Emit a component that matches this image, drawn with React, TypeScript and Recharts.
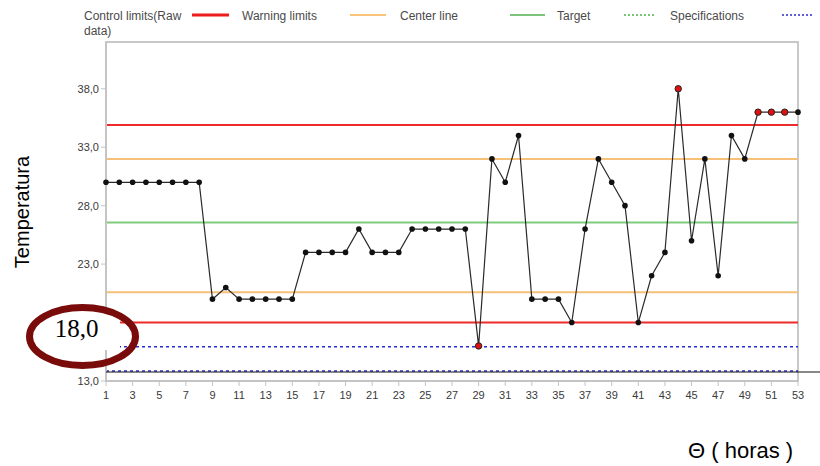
import React from 'react';
import { ComposedChart, Line, XAxis, YAxis, ReferenceLine, ReferenceArea } from 'recharts';

// temperature readings per hour
const temps = [
  30, 30, 30, 30, 30, 30, 30, 30, 20, 21,
  20, 20, 20, 20, 20, 24, 24, 24, 24, 26,
  24, 24, 24, 26, 26, 26, 26, 26, 16, 32,
  30, 34, 20, 20, 20, 18, 26, 32, 30, 28,
  18, 22, 24, 38, 25, 32, 22, 34, 32, 36,
  36, 36, 36,
];
// hours flagged out of control (red dots)
const flaggedHours = [29, 44, 50, 51, 52];

const controlLimits = [18.0, 34.9];
const warningLimits = [20.6, 32.0];
const centerLine = 26.55;
const specLimits = [13.86, 15.93];

const xTicks = [1, 3, 5, 7, 9, 11, 13, 15, 17, 19, 21, 23, 25, 27, 29, 31, 33, 35, 37, 39, 41, 43, 45, 47, 49, 51, 53];
const yTicks = [13, 18, 23, 28, 33, 38];
// tick whose label sits under the hand-drawn "18,0" note
const hiddenYTick = 18;

const legendItems = [
  { label: ['Control limits(Raw', 'data)'], color: '#ee1c1c', width: 3, dash: undefined },
  { label: ['Warning limits'], color: '#f5b04e', width: 1.5, dash: undefined },
  { label: ['Center line'], color: '#4fb24f', width: 1.5, dash: undefined },
  { label: ['Target'], color: '#4fb24f', width: 1.5, dash: '2 2' },
  { label: ['Specifications'], color: '#2b2bd0', width: 1.5, dash: '2 2' },
];

const data = temps.map((t, i) => ({ hour: i + 1, temp: t }));

const fmt = (v: number) => v.toFixed(1).replace('.', ',');

const FONT = '"Liberation Sans", Arial, sans-serif';

// legend layout: text x, swatch start/end
const legendLayout = [
  { tx: 84, s1: 192, s2: 229 },
  { tx: 242, s1: 350, s2: 386 },
  { tx: 400, s1: 510, s2: 545 },
  { tx: 557, s1: 624, s2: 655 },
  { tx: 670, s1: 782, s2: 814 },
];

const Dot = (props: any) => {
  const { cx, cy, payload, index } = props;
  const bad = flaggedHours.includes(payload.hour);
  return (
    <circle key={`dot-${index}`} cx={cx} cy={cy} r={bad ? 3.2 : 2.8}
      fill={bad ? '#e01010' : '#111'} stroke="#222" strokeWidth={bad ? 1 : 0} />
  );
};

const YTick = (props: any) => {
  const { x, y, payload } = props;
  if (payload.value === hiddenYTick) return <g />;
  return (
    <text x={x} y={y} dy="0.355em" textAnchor="end" fontSize={11} fontFamily={FONT} fill="#3a3a3a">
      {fmt(payload.value)}
    </text>
  );
};

export default function App() {
  const tickStyle = { fontSize: 11, fill: '#3a3a3a', fontFamily: FONT };
  return (
    <div style={{ position: 'absolute', left: 0, top: 0, width: 820, height: 466, background: '#fff' }}>
      <ComposedChart width={820} height={466} data={data} margin={{ top: 42, right: 22, bottom: 55, left: 66 }}>
        <XAxis dataKey="hour" type="number" domain={[1, 53]} ticks={xTicks} interval={0} height={30}
          tick={tickStyle} tickSize={5} tickMargin={5} stroke="#c4c4c4" axisLine={{ stroke: '#c4c4c4', strokeWidth: 2 }} />
        <YAxis type="number" domain={[13, 42]} ticks={yTicks} width={40}
          tick={<YTick />} tickSize={5} tickMargin={2} stroke="#c4c4c4" axisLine={{ stroke: '#c4c4c4', strokeWidth: 2 }} />
        <ReferenceArea x1={1} x2={53} y1={13} y2={42} fill="none" stroke="#c8c8c8" strokeWidth={2} />
        {specLimits.map((v) => (
          <ReferenceLine key={`s${v}`} y={v} stroke="#2b2bd0" strokeDasharray="3 3" strokeWidth={1.5} />
        ))}
        {warningLimits.map((v) => (
          <ReferenceLine key={`w${v}`} y={v} stroke="#f6c078" strokeWidth={2} />
        ))}
        <ReferenceLine y={centerLine} stroke="#7fcb7f" strokeWidth={2} />
        {controlLimits.map((v) => (
          <ReferenceLine key={`c${v}`} y={v} stroke="#ee2b2b" strokeWidth={2} />
        ))}
        <Line dataKey="temp" type="linear" stroke="#2a2a2a" strokeWidth={1.2} dot={Dot} activeDot={false} isAnimationActive={false} />
      </ComposedChart>

      <svg width={820} height={466} style={{ position: 'absolute', left: 0, top: 0, pointerEvents: 'none' }}>
        {legendItems.map((it, i) => {
          const l = legendLayout[i];
          return (
            <g key={i}>
              <text x={l.tx} y={19.5} fontSize={12} fontFamily={FONT} fill="#4a4a4a">
                {it.label.map((ln, j) => (
                  <tspan key={j} x={l.tx} dy={j === 0 ? 0 : 15.5}>{ln}</tspan>
                ))}
              </text>
              <line x1={l.s1} x2={l.s2} y1={15} y2={15} stroke={it.color} strokeWidth={it.width} strokeDasharray={it.dash} />
            </g>
          );
        })}
        <line x1={106} x2={820} y1={372} y2={372} stroke="#111" strokeWidth={1} />
        <rect x={30} y={310} width={90} height={40} fill="#fff" />
        <ellipse cx={82.5} cy={336.5} rx={53} ry={29} fill="none" stroke="#7a0b0b" strokeWidth={7} />
        <text x={76.5} y={337} textAnchor="middle" fontSize={25} fontFamily='"Liberation Serif", "Times New Roman", serif' fill="#000">18,0</text>
        <text x={0} y={0} transform="translate(29 212) rotate(-90)" textAnchor="middle" fontSize={20} fontFamily={FONT} fill="#000">Temperatura</text>
        <text x={688} y={458} fontSize={22} fontFamily={FONT} fill="#000">Θ ( horas )</text>
      </svg>
    </div>
  );
}
